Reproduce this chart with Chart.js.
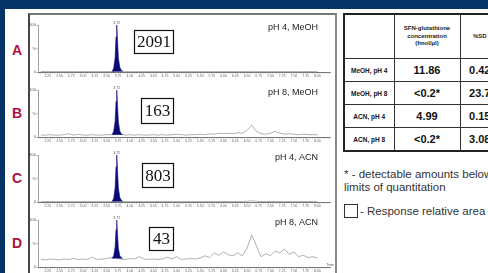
<!DOCTYPE html>
<html><head><meta charset="utf-8">
<script src="https://cdn.jsdelivr.net/npm/chart.js@4"></script>
<style>
html,body{margin:0;padding:0;width:488px;height:273px;overflow:hidden;background:#fff;font-family:Arial,"Liberation Sans",sans-serif;}
#titlebar{position:absolute;left:0;top:0;width:488px;height:9px;background:#063466;overflow:hidden;}
#titlebar span{position:absolute;left:0;width:488px;text-align:center;top:-16px;color:#fff;font:bold 14px Arial,"Liberation Sans",sans-serif;white-space:nowrap;}
#strip{position:absolute;left:0;top:0;width:5px;height:273px;background:#063466;}
#frame{position:absolute;left:28px;top:13px;width:305px;height:270px;border-left:2px solid #444;border-top:2px solid #777;border-right:2px solid #888;}
.lbl{position:absolute;left:12px;font:bold 14px Arial,"Liberation Sans",sans-serif;line-height:14px;color:#b0103c;}
.panel{position:absolute;left:28px;width:308px;height:65px;}
#tblwrap{position:absolute;left:343px;top:13px;width:300px;}
#tbl{border-collapse:collapse;border:2px solid #222;table-layout:fixed;color:#111;width:156px;}
#tbl td{border:1px solid #333;text-align:center;padding:0;overflow:hidden;white-space:nowrap;}
#tbl tr.hdr td{height:43px;font:bold 6px Arial,"Liberation Sans",sans-serif;line-height:7.5px;color:#222;}
#tbl tr.row td{height:22px;}
#tbl td.rh{font:bold 6.5px Arial,"Liberation Sans",sans-serif;}
#tbl td.v{font:bold 11px Arial,"Liberation Sans",sans-serif;}
#note{position:absolute;left:344px;top:168px;font:11.5px Arial,"Liberation Sans",sans-serif;line-height:12.5px;color:#333;white-space:nowrap;}
#legend{position:absolute;left:344px;top:204px;font:11.5px Arial,"Liberation Sans",sans-serif;line-height:14px;color:#333;white-space:nowrap;}
#legend i{display:inline-block;width:12px;height:12px;border:1px solid #333;vertical-align:top;margin-right:2px;}
</style></head>
<body>
<div id="titlebar"><span>Sample preparation: pH and solvent effects on SFN-glutathione stability</span></div>
<div id="strip"></div>
<div id="frame"></div>
<div class="lbl" style="top:43px">A</div>
<div class="lbl" style="top:106px">B</div>
<div class="lbl" style="top:171px">C</div>
<div class="lbl" style="top:236px">D</div>
<div class="panel" style="top:15px"><canvas id="cA"></canvas></div>
<div class="panel" style="top:80px"><canvas id="cB"></canvas></div>
<div class="panel" style="top:145px"><canvas id="cC"></canvas></div>
<div class="panel" style="top:210px"><canvas id="cD"></canvas></div>
<div id="tblwrap"><table id="tbl"><colgroup><col style="width:50px"><col style="width:66px"><col style="width:40px"></colgroup></table></div>
<div id="note">* - detectable amounts below the<br>limits of quantitation</div>
<div id="legend"><i></i>- Response relative area</div>
<script>
// ---------- data ----------
const panelIds = ['cA','cB','cC','cD'];
const conditions = ['pH 4, MeOH','pH 8, MeOH','pH 4, ACN','pH 8, ACN'];
const responseAreas = ['2091','163','803','43'];
const peakRT = 3.72;
const peakLabel = '3.72';
const xTickLabels = ['2.25','2.50','2.75','3.00','3.25','3.50','3.75','4.00','4.25','4.50','4.75','5.00','5.25','5.50','5.75','6.00','6.25','6.50','6.75','7.00','7.25','7.50','7.75','8.00'];
const yTickLabels = ['0','%','100'];
const times = [2.1,2.2,2.3,2.4,2.5,2.6,2.7,2.8,2.9,3.0,3.1,3.2,3.3,3.4,3.5,3.6,3.7,3.8,3.9,4.0,
  4.1,4.2,4.3,4.4,4.5,4.6,4.7,4.8,4.9,5.0,5.1,5.2,5.3,5.4,5.5,5.6,5.7,5.8,5.9,6.0,
  6.1,6.2,6.3,6.4,6.5,6.6,6.7,6.8,6.9,7.0,7.1,7.2,7.3,7.4,7.5,7.6,7.7,7.8,7.9,8.0];
const traceA = [1,1,1,1,1,1,1,1,1,1, 1,1,1,1,1,1,1,2,1,1, 1,1,1,1,1,1,1,1,1,1, 1,1,1,1,1,1,1,1,1,1, 1,1,1,1,1,1.5,1,1,1,1, 1,1,1,1,1,1,1,1,1,1];
const traceB = [4,4,5,4,4,5,7,4,6,4, 4,5,4,4,5,5,5,6,4,5, 4,5,4,4,5,4,5,4,5,6, 5,4,5,5,6,5,7,6,8,7, 8,7,9,8,14,25,12,7,6,8, 12,8,6,7,6,5,6,5,5,5];
const traceC = [1,1,1,1,1,1,1,1,1,1, 1,1,1,1,1,1,1,1.5,1,1, 1,1,1,1,1,1,1,1,1,1, 1,1,1,1,1,1,1,1,1,1, 1,1,1,1,1.5,2.5,1.5,1,1,1, 1,1,1,1,1,1,1,1,1,1];
const traceD = [16,15,17,16,15,17,16,18,16,17, 16,21,16,17,18,20,20,17,16,18, 17,22,17,16,17,16,17,21,17,22, 16,17,18,17,19,24,20,30,25,32, 26,24,30,24,40,68,45,22,28,24, 34,30,38,27,32,22,25,20,22,19];
const peakTimes = [3.62,3.655,3.685,3.705,3.72,3.735,3.755,3.785,3.815,3.85];
const peakA = [1,8,30,75,100,70,30,10,4,1];
const peakB = [5,12,33,76,100,70,32,13,7,5];
const peakC = [1,8,30,75,100,70,30,10,4,1];
const peakD = [18,24,42,80,100,72,40,24,20,18];
const peakBase = [1,5,1,18];
const rowLabels = ['MeOH, pH 4','MeOH, pH 8','ACN, pH 4','ACN, pH 8'];
const concValues = ['11.86','<0.2*','4.99','<0.2*'];
const sdValues = ['0.42','23.7','0.15','3.08'];
const tableHeader = ['', 'SFN-glutathione<br>concentration<br>(fmol/µl)', '%SD'];

// ---------- table ----------
const tbl = document.getElementById('tbl');
let html = '<tr class="hdr">' + tableHeader.map(h=>'<td>'+h+'</td>').join('') + '</tr>';
rowLabels.forEach((r,i)=>{
  html += '<tr class="row"><td class="rh">'+r+'</td><td class="v">'+concValues[i].replace('<','&lt;')+'</td><td class="v">'+sdValues[i]+'</td></tr>';
});
tbl.insertAdjacentHTML('beforeend', html);

// ---------- charts ----------
const traces = [traceA,traceB,traceC,traceD];
const peaks = [peakA,peakB,peakC,peakD];
// annotation box placement in data units (x in min, y in %)
const boxPlace = [{t0:4.08,t1:4.93,top:89,bottom:40},{t0:4.23,t1:4.93,top:83,bottom:30},{t0:4.25,t1:4.93,top:83,bottom:32},{t0:4.40,t1:4.93,top:85,bottom:36}];

const annotPlugin = {
  id:'annot',
  afterDatasetsDraw(chart, args, o){
    const {ctx, chartArea, scales:{x,y}} = chart;
    const b = boxPlace[o.idx];
    ctx.save();
    const x0 = Math.round(x.getPixelForValue(b.t0))+0.5, x1 = Math.round(x.getPixelForValue(b.t1))+0.5;
    const y0 = Math.round(y.getPixelForValue(b.top))+0.5, y1 = Math.round(y.getPixelForValue(b.bottom))+0.5;
    ctx.fillStyle='#fff'; ctx.fillRect(x0,y0,x1-x0,y1-y0);
    ctx.strokeStyle='#111'; ctx.lineWidth=1.2; ctx.strokeRect(x0,y0,x1-x0,y1-y0);
    ctx.fillStyle='#111'; ctx.font='17px "Liberation Serif","Times New Roman",serif';
    ctx.textAlign='center'; ctx.textBaseline='middle';
    ctx.fillText(responseAreas[o.idx],(x0+x1)/2,(y0+y1)/2+1);
    ctx.font='9px Arial,"Liberation Sans",sans-serif'; ctx.fillStyle='#222'; ctx.textAlign='right';
    ctx.fillText(conditions[o.idx], chartArea.right-12, chartArea.top+3);
    ctx.font='3.5px Arial,"Liberation Sans",sans-serif'; ctx.fillStyle='#555'; ctx.textAlign='center'; ctx.textBaseline='bottom';
    ctx.fillText(peakLabel, x.getPixelForValue(peakRT), chartArea.top-0.5);
    if (o.idx===3){
      ctx.textAlign='right'; ctx.textBaseline='bottom';
      ctx.fillText('Time', chartArea.right+4, chartArea.bottom-0.5);
    }
    ctx.restore();
  }
};

panelIds.forEach((id,i)=>{
  new Chart(document.getElementById(id), {
    type:'line',
    data:{datasets:[
      {data:peakTimes.map((t,k)=>({x:t,y:peaks[i][k]})), fill:{value:peakBase[i]},
       backgroundColor:'#0b0b78', borderColor:'#0b0b78', borderWidth:0.6, pointRadius:0, tension:0},
      {data:times.map((t,k)=>({x:t,y:traces[i][k]})), fill:false,
       borderColor:'#9c9c9c', borderWidth:0.8, pointRadius:0, tension:0}
    ]},
    options:{
      responsive:true, maintainAspectRatio:false, animation:false, events:[],
      layout:{padding:{top:10,right:6,left:0,bottom:0}},
      plugins:{legend:{display:false}, tooltip:{enabled:false}, annot:{idx:i}},
      scales:{
        x:{type:'linear', min:2.04, max:8.27,
          afterBuildTicks(s){ const t=[]; for(let k=41;k<=165;k++){ t.push({value:k/20}); } s.ticks=t; },
          afterFit(s){ s.height=8; },
          ticks:{autoSkip:false, maxRotation:0, minRotation:0, padding:0.5, color:'#666',
            font:{size:3.5, family:'Arial'},
            callback(v){ const l = xTickLabels.find(s=>Math.abs(parseFloat(s)-v)<1e-6); return l||''; }},
          grid:{drawOnChartArea:false, drawTicks:true, tickLength:1.5, color:'#888', lineWidth:0.6},
          border:{display:true, color:'#777', width:1}},
        y:{min:0, max:100,
          afterBuildTicks(s){ s.ticks=[{value:0},{value:50},{value:100}]; },
          afterFit(s){ s.width=10; },
          ticks:{padding:0.5, color:'#555', font:{size:4, family:'Arial'},
            callback(v){ return yTickLabels[[0,50,100].indexOf(v)]; }},
          grid:{drawOnChartArea:false, drawTicks:true, tickLength:1.5, color:'#888', lineWidth:0.6},
          border:{display:true, color:'#888', width:0.8}}
      }
    },
    plugins:[annotPlugin]
  });
});
</script>
</body></html>
